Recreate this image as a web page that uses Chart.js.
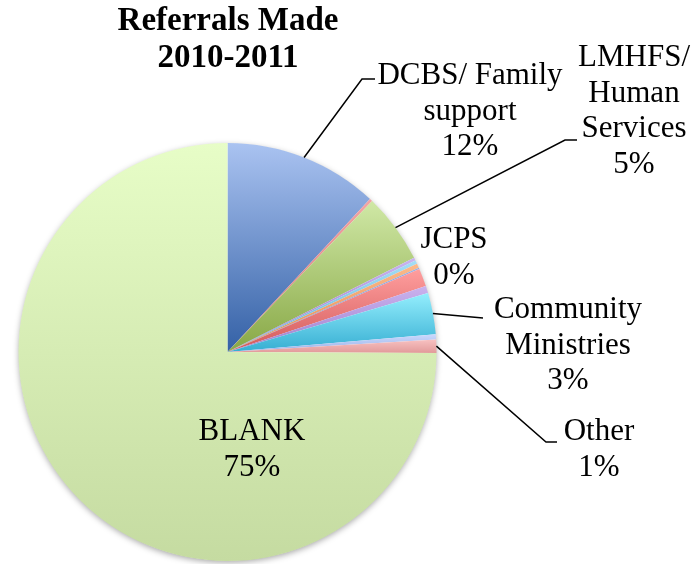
<!DOCTYPE html>
<html>
<head>
<meta charset="utf-8">
<script src="https://cdn.jsdelivr.net/npm/chart.js@4"></script>
<style>
  html, body { margin: 0; padding: 0; background: #fff; }
  #wrap { width: 693px; height: 564px; }
</style>
</head>
<body>
<div id="wrap"><canvas id="myChart" width="693" height="564"></canvas></div>
<script>
// slices clockwise from 12 o'clock
const categories = [
  'DCBS/ Family support', 'Unlabeled 1', 'LMHFS/ Human Services', 'Unlabeled 2',
  'JCPS', 'Unlabeled 3', 'Unlabeled 4', 'Unlabeled 5', 'Unlabeled 6',
  'Community Ministries', 'Unlabeled 7', 'Other', 'BLANK'
];
const values = [11.94, 0.22, 5.4, 0.22, 0.28, 0.33, 0.1, 1.4, 0.56, 3.2, 0.39, 1.03, 74.93];
const topColors = ['#aac3f1', '#f2a4a4', '#d0e8a6', '#c9b3ee', '#a4def6', '#fcba8a', '#98b0e6',
  '#ff9e9e', '#cab2ee', '#94eefd', '#cad9fd', '#f8c2c2', '#e7fdc7'];
const bottomColors = ['#3461a6', '#d07878', '#88a846', '#9a7cc8', '#5eaed6', '#e08a50', '#6c88c8',
  '#d25a5a', '#9e80cc', '#36aed2', '#9ab2e8', '#e29a9a', '#c5dba1'];

// text placement for the labelled slices (line text, centre x, first line y, elbow)
const labelSpots = {
  'DCBS/ Family support': { lines: ['DCBS/ Family', 'support'], x: 470, y: 76, elbow: [362, 79], end: [375, 79] },
  'LMHFS/ Human Services': { lines: ['LMHFS/', 'Human', 'Services'], x: 634, y: 58, elbow: [565, 140], end: [577, 140] },
  'JCPS': { lines: ['JCPS'], x: 454, y: 240 },
  'Community Ministries': { lines: ['Community', 'Ministries'], x: 568, y: 310, elbow: null, end: [483, 318] },
  'Other': { lines: ['Other'], x: 599, y: 432, elbow: [546, 442], end: [557, 442] },
  'BLANK': { lines: ['BLANK'], x: 252, y: 432, inside: true }
};
const titleLines = ['Referrals Made', '2010-2011'];

const total = values.reduce((a, b) => a + b, 0);

function sliceAngles(i) {
  let before = 0;
  for (let k = 0; k < i; k++) before += values[k];
  const a0 = -Math.PI / 2 + 2 * Math.PI * before / total;
  const a1 = a0 + 2 * Math.PI * values[i] / total;
  return [a0, a1];
}

function sliceGradient(context) {
  const chart = context.chart;
  const area = chart.chartArea;
  const i = context.dataIndex;
  if (!area) return topColors[i];
  const cx = (area.left + area.right) / 2;
  const cy = (area.top + area.bottom) / 2;
  const r = Math.min(area.right - area.left, area.bottom - area.top) / 2;
  const [a0, a1] = sliceAngles(i);
  let ys = [cy, cy + r * Math.sin(a0), cy + r * Math.sin(a1)];
  [-Math.PI / 2, Math.PI / 2, 3 * Math.PI / 2].forEach(a => {
    if (a > a0 && a < a1) ys.push(cy + r * Math.sin(a));
  });
  const y0 = Math.min(...ys), y1 = Math.max(...ys);
  const g = chart.ctx.createLinearGradient(0, y0, 0, Math.max(y1, y0 + 1));
  g.addColorStop(0, topColors[i]);
  g.addColorStop(1, bottomColors[i]);
  return g;
}

const shadowPlugin = {
  id: 'pieShadow',
  beforeDatasetsDraw(chart) {
    const arc = chart.getDatasetMeta(0).data[0];
    const ctx = chart.ctx;
    ctx.save();
    ctx.shadowColor = 'rgba(0,0,0,0.35)';
    ctx.shadowBlur = 6;
    ctx.shadowOffsetY = 2;
    ctx.fillStyle = '#ffffff';
    ctx.beginPath();
    ctx.arc(arc.x, arc.y, arc.outerRadius - 0.5, 0, Math.PI * 2);
    ctx.fill();
    ctx.restore();
  }
};

const labelPlugin = {
  id: 'sliceLabels',
  afterDraw(chart) {
    const ctx = chart.ctx;
    const meta = chart.getDatasetMeta(0);
    ctx.save();
    ctx.fillStyle = '#000';
    ctx.textAlign = 'center';
    ctx.textBaseline = 'middle';

    ctx.font = 'bold 33px "Liberation Serif"';
    titleLines.forEach((t, k) => ctx.fillText(t, 228, 21 + k * 37));

    ctx.font = '31px "Liberation Serif"';
    ctx.strokeStyle = '#000';
    ctx.lineWidth = 1.5;
    categories.forEach((name, i) => {
      const spot = labelSpots[name];
      if (!spot) return;
      const pct = Math.round(values[i] / total * 100) + '%';
      const lines = spot.lines.concat([pct]);
      lines.forEach((t, k) => ctx.fillText(t, spot.x, spot.y + k * 35.5));
      if (spot.end) {
        const arc = meta.data[i];
        const mid = (arc.startAngle + arc.endAngle) / 2;
        const sx = arc.x + arc.outerRadius * Math.cos(mid);
        const sy = arc.y + arc.outerRadius * Math.sin(mid);
        ctx.beginPath();
        ctx.moveTo(sx, sy);
        if (spot.elbow) ctx.lineTo(spot.elbow[0], spot.elbow[1]);
        ctx.lineTo(spot.end[0], spot.end[1]);
        ctx.stroke();
      }
    });
    ctx.restore();
  }
};

const data = {
  labels: categories,
  datasets: [{
    data: values,
    backgroundColor: sliceGradient,
    borderWidth: 0
  }]
};

const config = {
  type: 'pie',
  data: data,
  options: {
    responsive: false,
    animation: false,
    layout: { padding: { left: 18, right: 256, top: 143, bottom: 3 } },
    plugins: {
      legend: { display: false },
      tooltip: { enabled: false },
      title: { display: false }
    }
  },
  plugins: [shadowPlugin, labelPlugin]
};

const myChart = new Chart(document.getElementById('myChart'), config);
</script>
</body>
</html>
